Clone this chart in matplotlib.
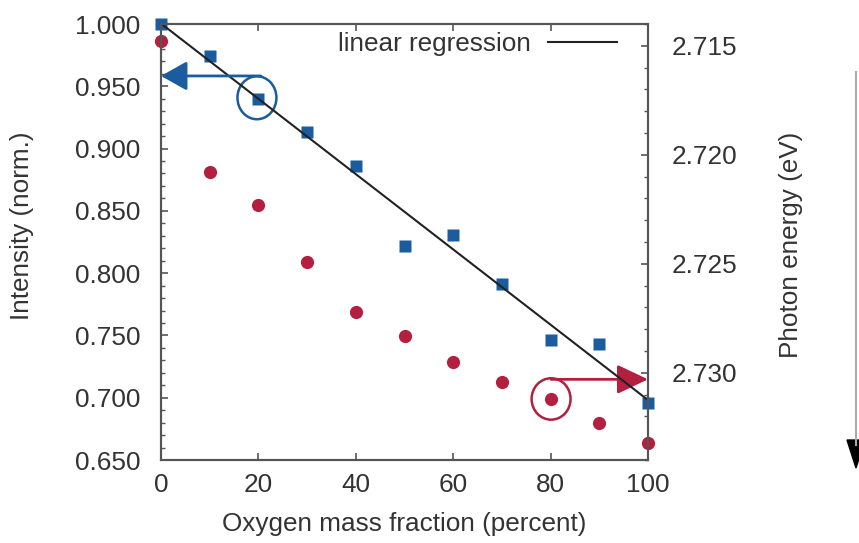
import numpy as np
import matplotlib
matplotlib.use("Agg")
import matplotlib.pyplot as plt
from matplotlib.patches import Ellipse, Polygon
from matplotlib.lines import Line2D
from matplotlib.ticker import MultipleLocator, FormatStrFormatter

# ---- data ----
oxygen_fraction = [0, 10, 20, 30, 40, 50, 60, 70, 80, 90, 100]
intensity = [1.000, 0.974, 0.940, 0.913, 0.886, 0.822, 0.831, 0.791, 0.746, 0.743, 0.696]
photon_energy = [2.7148, 2.7208, 2.7223, 2.7249, 2.7272, 2.7283, 2.7295, 2.7304, 2.7312, 2.7323, 2.7332]
x_ticks = [0, 20, 40, 60, 80, 100]
left_ticks = [0.650, 0.700, 0.750, 0.800, 0.850, 0.900, 0.950, 1.000]
right_ticks = [2.715, 2.720, 2.725, 2.730]

plt.rcParams['font.family'] = ['Liberation Sans', 'DejaVu Sans']
TXT = '#333333'
SPINE = '#555555'
BLUE = '#1a5c9e'
RED = '#b3203f'
FS = 18.8

fig = plt.figure(figsize=(8.59, 5.43), dpi=100)
ax = fig.add_axes([161/859, 1-460/543, (648-161)/859, 436/543])
ax2 = ax.twinx()
ax.set_zorder(ax2.get_zorder() + 1)
ax.patch.set_visible(False)

# red circles (photon energy, right axis)
ax2.plot(oxygen_fraction, photon_energy, 'o', color=RED, ms=9.5, mec='none', clip_on=False)
# blue squares (intensity, left axis)
ax.plot(oxygen_fraction, intensity, 's', color=BLUE, ms=9, mec='none', clip_on=False)
# linear regression
slope, intercept = np.polyfit(oxygen_fraction, intensity, 1)
xr = np.array([oxygen_fraction[0], oxygen_fraction[-1]])
ax.plot(xr, intercept + slope * xr, '-', color='#222222', lw=1.5, label='linear regression')

ax.set_xlim(0, 100)
ax.set_ylim(0.65, 1.0)
ax2.set_ylim(2.734, 2.714)

ax.set_xticks(x_ticks)
ax.set_yticks(left_ticks)
ax.yaxis.set_major_formatter(FormatStrFormatter('%.3f'))
ax.yaxis.set_minor_locator(MultipleLocator(0.01))
ax2.set_yticks(right_ticks)
ax2.yaxis.set_major_formatter(FormatStrFormatter('%.3f'))
ax2.yaxis.set_minor_locator(MultipleLocator(0.001))

ax.tick_params(axis='x', which='major', direction='in', top=True, bottom=True,
               length=5, width=1.2, color=SPINE, labelsize=FS, labelcolor=TXT, pad=9)
ax.tick_params(axis='y', which='major', direction='in', left=True, right=False,
               length=5, width=1.2, color=SPINE, labelsize=FS, labelcolor=TXT, pad=15)
ax.tick_params(axis='y', which='minor', direction='in', left=True, right=False,
               length=3, width=1.0, color=SPINE)
ax2.tick_params(axis='y', which='major', direction='in', right=True, left=False,
                length=5, width=1.2, color=SPINE, labelsize=FS, labelcolor=TXT, pad=17)
ax2.tick_params(axis='y', which='minor', direction='in', right=True, left=False,
                length=3, width=1.0, color=SPINE)

for a in (ax, ax2):
    for s in a.spines.values():
        s.set_color(SPINE)
        s.set_linewidth(1.5)

# axis labels
fig.text(404/859, 1-524/543, 'Oxygen mass fraction (percent)', ha='center', va='center',
         fontsize=FS, color=TXT)
fig.text(22/859, 1-226/543, 'Intensity (norm.)', ha='center', va='center', rotation=90,
         fontsize=FS, color=TXT)
fig.text(791/859, 1-245/543, 'Photon energy (eV)', ha='center', va='center', rotation=90,
         fontsize=FS, color=TXT)

# legend
leg = ax.legend(loc='center right', bbox_to_anchor=((617-161)/487, 1-(44-24)/436),
                frameon=False, markerfirst=False, fontsize=FS, borderpad=0, borderaxespad=0,
                handlelength=2.65, handletextpad=0.65)
for t in leg.get_texts():
    t.set_color(TXT)

# blue annotation: ellipse + arrow to left axis
ax.add_patch(Ellipse((19.7, 0.9408), width=8.0, height=0.0345, fill=False, ec=BLUE, lw=1.8))
ax.annotate('', xy=(0, 0.9583), xytext=(20.5, 0.9583),
            arrowprops=dict(arrowstyle='-|>,head_length=0.8,head_width=0.45', color=BLUE,
                            lw=2.0, mutation_scale=20, shrinkA=0, shrinkB=0))
# red annotation: ellipse + arrow to right axis
ax2.add_patch(Ellipse((80.1, 2.7312), width=8.0, height=0.0019, fill=False, ec=RED, lw=1.8))
ax2.annotate('', xy=(100, 2.7303), xytext=(80.1, 2.7303),
             arrowprops=dict(arrowstyle='-|>,head_length=0.95,head_width=0.45', color=RED,
                             lw=2.0, mutation_scale=20, shrinkA=0, shrinkB=0))

# far-right downward arrow (increasing photon energy)
fig.add_artist(Line2D([856/859, 856/859], [1-72/543, 1-445/543], transform=fig.transFigure,
                      color='#aaaaaa', lw=1.5))
fig.add_artist(Polygon([[847/859, 1-440/543], [865/859, 1-440/543], [856/859, 1-468/543]],
                       closed=True, transform=fig.transFigure, color='black'))

fig.savefig('out.png', dpi=100)
